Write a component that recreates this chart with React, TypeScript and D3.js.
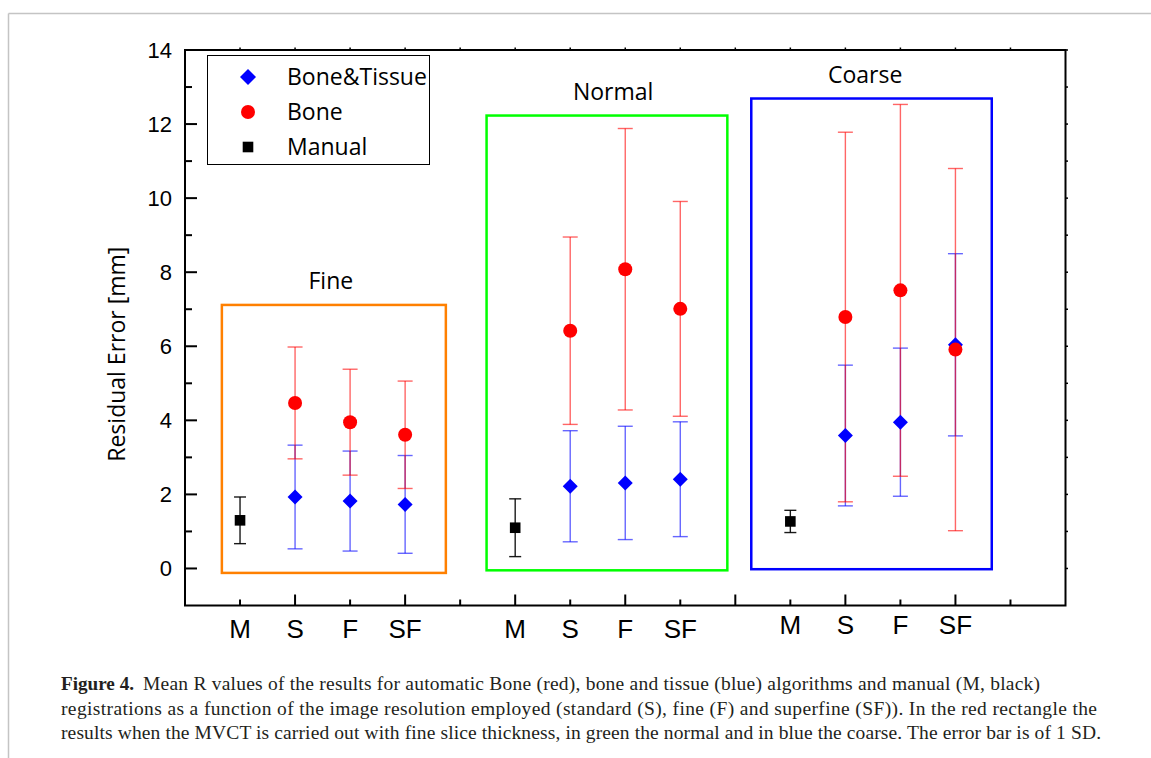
import React from "react";
import * as d3 from "d3";

// ---- data ----
const tickLabels = ["M", "S", "F", "SF", "M", "S", "F", "SF", "M", "S", "F", "SF"];
const tickPositions = [1, 2, 3, 4, 6, 7, 8, 9, 11, 12, 13, 14];

const manualPositions = [1, 6, 11];
const manualMean = [1.3, 1.1, 1.27];
const manualSD = [0.63, 0.78, 0.3];

const autoPositions = [2, 3, 4, 7, 8, 9, 12, 13, 14];
const boneTissueMean = [1.93, 1.82, 1.73, 2.22, 2.31, 2.41, 3.59, 3.95, 6.04];
const boneTissueSD = [1.4, 1.35, 1.32, 1.5, 1.53, 1.55, 1.9, 2.0, 2.46];
const boneMean = [4.47, 3.95, 3.61, 6.42, 8.08, 7.01, 6.79, 7.51, 5.91];
const boneSD = [1.51, 1.43, 1.45, 2.53, 3.8, 2.9, 4.99, 5.02, 4.89];

const groupNames = ["Fine", "Normal", "Coarse"];
const groupX0 = [0.67, 5.48, 10.29];
const groupX1 = [4.74, 9.855, 14.66];
const groupY0 = [-0.12, -0.05, -0.02];
const groupY1 = [7.116, 12.23, 12.69];
const groupLabelX = [2.65, 7.78, 12.36];

const yTicks = [0, 2, 4, 6, 8, 10, 12, 14];
const yMinorTicks = [1, 3, 5, 7, 9, 11, 13];
const xMajorTicks = [2, 4, 6, 8, 10, 12, 14];
const xMinorTicks = [1, 3, 5, 7, 9, 11, 13, 15];

const legendLabels = ["Bone&Tissue", "Bone", "Manual"];
const yTitle = "Residual Error [mm]";
const captionTitle = "Figure 4.";
const captionLines = [
  "Mean R values of the results for automatic Bone (red), bone and tissue (blue) algorithms and manual (M, black)",
  "registrations as a function of the image resolution employed (standard (S), fine (F) and superfine (SF)). In the red rectangle the",
  "results when the MVCT is carried out with fine slice thickness, in green the normal and in blue the coarse. The error bar is of 1 SD.",
];

export default function App() {
  const W = 1151;
  const H = 758;
  const left = 185, right = 1065.5, top = 50, bottom = 605.5;
  const x = d3.scaleLinear().domain([0, 16]).range([left, right]);
  const y = d3.scaleLinear().domain([-1, 14]).range([bottom, top]);

  const groupColors = ["#ff8000", "#00ff00", "#0000ff"];
  const sansTick = "'Liberation Sans', Arial, sans-serif";
  const sansLabel = "'Open Sans', sans-serif";
  const serif = "'Liberation Serif', 'Times New Roman', serif";

  const diamond = (cx: number, cy: number, r: number) =>
    `M${cx},${cy - r}L${cx + r},${cy}L${cx},${cy + r}L${cx - r},${cy}Z`;

  const errBar = (px: number, m: number, sd: number, color: string, cap: number, op: number, key: string) => {
    const X = x(px);
    const y1 = y(m + sd);
    const y2 = y(m - sd);
    return (
      <g key={key} stroke={color} strokeWidth={1.4} strokeOpacity={op}>
        <line x1={X} x2={X} y1={y1} y2={y2} />
        <line x1={X - cap} x2={X + cap} y1={y1} y2={y1} />
        <line x1={X - cap} x2={X + cap} y1={y2} y2={y2} />
      </g>
    );
  };

  return (
    <svg width={W} height={H} style={{ position: "absolute", left: 0, top: 0, background: "#fff" }}>
      <rect x={0} y={0} width={W} height={H} fill="#fff" />
      {/* page frame */}
      <line x1={8.5} x2={W} y1={13.5} y2={13.5} stroke="#c4c4c4" strokeWidth={1.5} />
      <line x1={8.5} x2={8.5} y1={13.5} y2={H} stroke="#c4c4c4" strokeWidth={1.5} />

      {/* group boxes */}
      {groupNames.map((g, i) => (
        <g key={g}>
          <rect
            x={x(groupX0[i])}
            y={y(groupY1[i])}
            width={x(groupX1[i]) - x(groupX0[i])}
            height={y(groupY0[i]) - y(groupY1[i])}
            fill="none"
            stroke={groupColors[i]}
            strokeWidth={2.5}
          />
          <text
            x={x(groupLabelX[i])}
            y={y(groupY1[i]) - 16}
            textAnchor="middle"
            fontFamily={sansLabel}
            fontSize={23}
            fill="#000"
          >
            {g}
          </text>
        </g>
      ))}

      {/* error bars */}
      {autoPositions.map((p, i) => errBar(p, boneTissueMean[i], boneTissueSD[i], "#0000ff", 7.5, 0.6, "bt" + i))}
      {autoPositions.map((p, i) => errBar(p, boneMean[i], boneSD[i], "#ff0000", 7.5, 0.6, "b" + i))}
      {manualPositions.map((p, i) => errBar(p, manualMean[i], manualSD[i], "#000000", 6, 0.9, "m" + i))}

      {/* markers */}
      {autoPositions.map((p, i) => (
        <path key={"btm" + i} d={diamond(x(p), y(boneTissueMean[i]), 7.5)} fill="#0000ff" />
      ))}
      {autoPositions.map((p, i) => (
        <circle key={"bm" + i} cx={x(p)} cy={y(boneMean[i])} r={7} fill="#ff0000" />
      ))}
      {manualPositions.map((p, i) => (
        <rect key={"mm" + i} x={x(p) - 5.3} y={y(manualMean[i]) - 5.3} width={10.6} height={10.6} fill="#000" />
      ))}

      {/* axes frame */}
      <rect x={left} y={top} width={right - left} height={bottom - top} fill="none" stroke="#000" strokeWidth={2} />

      {/* y ticks */}
      {yTicks.map((t) => (
        <g key={"yt" + t}>
          <line x1={left} x2={left + 12} y1={y(t)} y2={y(t)} stroke="#000" strokeWidth={2} />
          <line x1={right} x2={right + 2.5} y1={y(t)} y2={y(t)} stroke="#000" strokeWidth={1.5} />
          <text x={172} y={y(t) + 8} textAnchor="end" fontFamily={sansTick} fontSize={22} fill="#000">
            {t}
          </text>
        </g>
      ))}
      {yMinorTicks.map((t) => (
        <g key={"ym" + t}>
          <line x1={left} x2={left + 7} y1={y(t)} y2={y(t)} stroke="#000" strokeWidth={2} />
          <line x1={right} x2={right + 2.5} y1={y(t)} y2={y(t)} stroke="#000" strokeWidth={1.5} />
        </g>
      ))}

      {/* x ticks */}
      {xMajorTicks.map((t) => (
        <g key={"xt" + t}>
          <line x1={x(t)} x2={x(t)} y1={bottom} y2={bottom - 11} stroke="#000" strokeWidth={2} />
          <line x1={x(t)} x2={x(t)} y1={top} y2={top - 2.5} stroke="#000" strokeWidth={1.5} />
        </g>
      ))}
      {xMinorTicks.map((t) => (
        <g key={"xm" + t}>
          <line x1={x(t)} x2={x(t)} y1={bottom} y2={bottom - 6} stroke="#000" strokeWidth={2} />
          <line x1={x(t)} x2={x(t)} y1={top} y2={top - 2.5} stroke="#000" strokeWidth={1.5} />
        </g>
      ))}
      {tickPositions.map((p, i) => (
        <text key={"xl" + i} x={x(p)} y={i >= 8 ? 634 : 638} textAnchor="middle" fontFamily={sansTick} fontSize={26} fill="#000">
          {tickLabels[i]}
        </text>
      ))}

      {/* y title */}
      <text
        transform={`translate(125, ${(y(14) + y(0)) / 2 + 45}) rotate(-90)`}
        textAnchor="middle"
        fontFamily={sansLabel}
        fontSize={23}
        fill="#000"
      >
        {yTitle}
      </text>

      {/* legend */}
      <rect x={207.5} y={55.5} width={222} height={109} fill="#fff" stroke="#000" strokeWidth={1} />
      <path d={diamond(248, 77, 8)} fill="#0000ff" />
      <circle cx={248} cy={112} r={7} fill="#ff0000" />
      <rect x={242.7} y={141.7} width={10.6} height={10.6} fill="#000" />
      {legendLabels.map((l, i) => (
        <text key={l} x={287} y={85 + i * 35} fontFamily={sansLabel} fontSize={23} fill="#000">
          {l}
        </text>
      ))}

      {/* caption */}
      <text x={61} y={690} fontFamily={serif} fontSize={19.5} fontWeight="bold" fill="#231f20" textLength={73} lengthAdjust="spacingAndGlyphs">
        {captionTitle}
      </text>
      <text x={143} y={690} fontFamily={serif} fontSize={19.5} fill="#231f20" textLength={897} lengthAdjust="spacing">
        {captionLines[0]}
      </text>
      <text x={61} y={714.5} fontFamily={serif} fontSize={19.5} fill="#231f20" textLength={1036} lengthAdjust="spacing">
        {captionLines[1]}
      </text>
      <text x={61} y={739} fontFamily={serif} fontSize={19.5} fill="#231f20" textLength={1040} lengthAdjust="spacing">
        {captionLines[2]}
      </text>
    </svg>
  );
}
